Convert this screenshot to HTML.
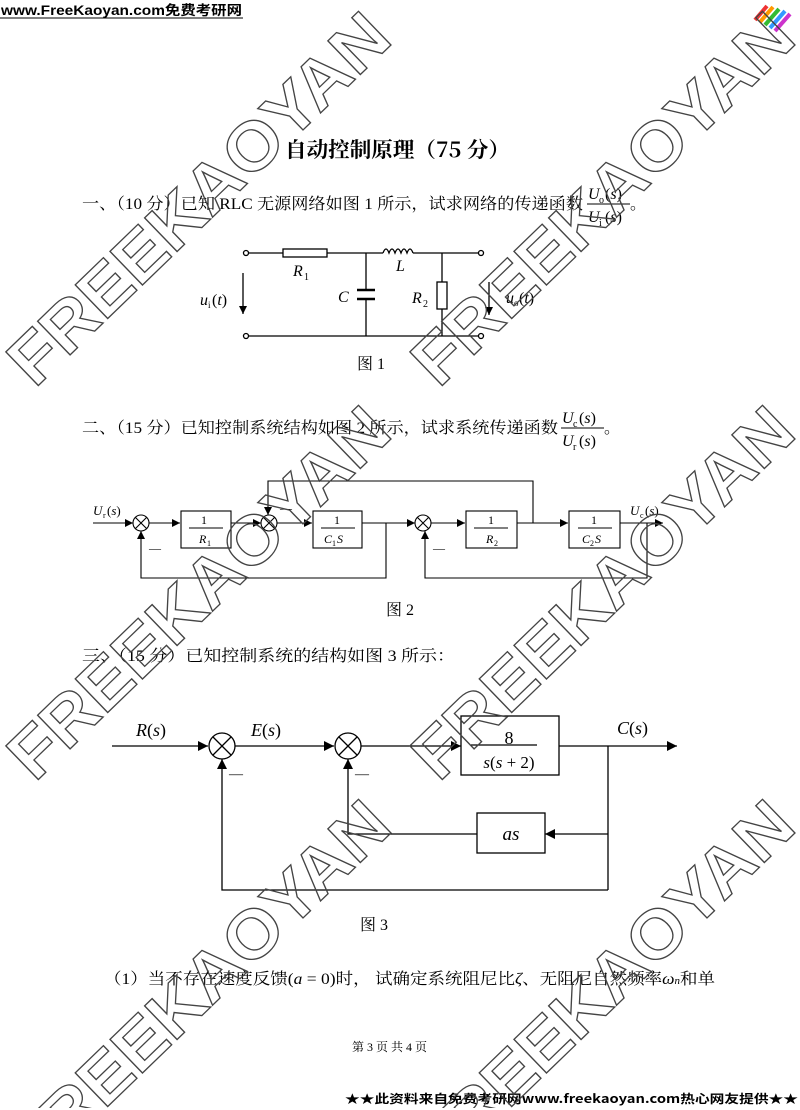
<!DOCTYPE html>
<html><head><meta charset="utf-8"><style>
html,body{margin:0;padding:0;background:#fff}
body{width:800px;height:1110px;overflow:hidden;position:relative}
svg{position:absolute;left:0;top:0;overflow:hidden}
.s{font-family:"Liberation Serif","Noto Serif CJK SC",serif;fill:#000}
.i{font-style:italic}
</style></head><body>
<svg width="800" height="1110" viewBox="0 0 800 1110" xmlns="http://www.w3.org/2000/svg">
<defs>
<marker id="a" viewBox="0 0 10 10" refX="10" refY="5" markerWidth="10" markerHeight="8" orient="auto" markerUnits="userSpaceOnUse"><path d="M0,0L10,5L0,10z" fill="#000"/></marker>
<marker id="b" viewBox="0 0 10 10" refX="10" refY="5" markerWidth="14" markerHeight="10" orient="auto" markerUnits="userSpaceOnUse"><path d="M0,0L10,5L0,10z" fill="#000"/></marker>
<clipPath id="clip"><rect x="0" y="0" width="800" height="1108"/></clipPath>
</defs>
<text x="1" y="15" font-family="Liberation Sans,'Noto Sans CJK SC',sans-serif" font-weight="bold" font-size="13.5" textLength="241" lengthAdjust="spacingAndGlyphs">www.FreeKaoyan.com免费考研网</text>
<line x1="0" y1="18" x2="243" y2="18" stroke="#000" stroke-width="1"/>
<g stroke-width="4">
<line x1="755" y1="20" x2="767" y2="6" stroke="#e33"/>
<line x1="760" y1="22" x2="773" y2="7" stroke="#f90"/>
<line x1="765" y1="25" x2="779" y2="9" stroke="#3b3"/>
<line x1="770" y1="28" x2="785" y2="11" stroke="#39f"/>
<line x1="775" y1="31" x2="790" y2="14" stroke="#c3c"/>
</g>
<text x="285" y="157" font-family="'Noto Serif CJK SC',serif" font-weight="bold" font-size="21" textLength="225" lengthAdjust="spacingAndGlyphs">自动控制原理（75 分）</text>
<text x="82" y="209" class="s" font-size="16" textLength="501" lengthAdjust="spacingAndGlyphs">一、（10 分）已知 RLC 无源网络如图 1 所示，试求网络的传递函数</text>
<text x="588" y="199" class="s i" font-size="16">U</text><text x="599" y="203" class="s" font-size="10">o</text><text x="605" y="199" class="s" font-size="16">(<tspan class="i">s</tspan>)</text>
<line x1="587" y1="204" x2="630" y2="204" stroke="#000"/>
<text x="588" y="222" class="s i" font-size="16">U</text><text x="599" y="226" class="s" font-size="10">i</text><text x="605" y="222" class="s" font-size="16">(<tspan class="i">s</tspan>)</text>
<text x="630" y="209" class="s" font-size="16">。</text>
<g stroke="#000" stroke-width="1.3" fill="none">
<circle cx="246" cy="253" r="2.5" fill="#fff"/><circle cx="246" cy="336" r="2.5" fill="#fff"/>
<circle cx="481" cy="253" r="2.5" fill="#fff"/><circle cx="481" cy="336" r="2.5" fill="#fff"/>
<line x1="249" y1="253" x2="283" y2="253"/><rect x="283" y="249" width="44" height="8"/>
<line x1="327" y1="253" x2="383" y2="253"/>
<path d="M383,253 q3,-8 6,0 q3,-8 6,0 q3,-8 6,0 q3,-8 6,0 q3,-8 6,0"/>
<line x1="413" y1="253" x2="478" y2="253"/>
<line x1="249" y1="336" x2="478" y2="336"/>
<line x1="366" y1="253" x2="366" y2="290"/><line x1="366" y1="300" x2="366" y2="336"/>
<line x1="357" y1="290" x2="375" y2="290" stroke-width="2.5"/><line x1="357" y1="299" x2="375" y2="299" stroke-width="2.5"/>
<line x1="442" y1="253" x2="442" y2="282"/><rect x="437" y="282" width="10" height="27"/><line x1="442" y1="309" x2="442" y2="336"/>
<line x1="243" y1="273" x2="243" y2="314" marker-end="url(#a)"/>
<line x1="489" y1="282" x2="489" y2="315" marker-end="url(#a)"/>
</g>
<text x="293" y="276" class="s i" font-size="16">R</text><text x="304" y="280" class="s" font-size="10">1</text>
<text x="396" y="271" class="s i" font-size="16">L</text>
<text x="338" y="302" class="s i" font-size="16">C</text>
<text x="412" y="303" class="s i" font-size="16">R</text><text x="423" y="307" class="s" font-size="10">2</text>
<text x="200" y="305" class="s i" font-size="16">u</text><text x="208" y="308" class="s" font-size="9">i</text><text x="212" y="305" class="s" font-size="16">(<tspan class="i">t</tspan>)</text>
<text x="506" y="303" class="s i" font-size="16">u</text><text x="514" y="306" class="s" font-size="9">o</text><text x="519" y="303" class="s" font-size="16">(<tspan class="i">t</tspan>)</text>
<text x="357" y="369" class="s" font-size="16">图 1</text>
<text x="82" y="433" class="s" font-size="16" textLength="476" lengthAdjust="spacingAndGlyphs">二、（15 分）已知控制系统结构如图 2 所示，试求系统传递函数</text>
<text x="562" y="423" class="s i" font-size="16">U</text><text x="573" y="427" class="s" font-size="10">c</text><text x="579" y="423" class="s" font-size="16">(<tspan class="i">s</tspan>)</text>
<line x1="561" y1="428" x2="604" y2="428" stroke="#000"/>
<text x="562" y="446" class="s i" font-size="16">U</text><text x="573" y="450" class="s" font-size="10">r</text><text x="579" y="446" class="s" font-size="16">(<tspan class="i">s</tspan>)</text>
<text x="604" y="433" class="s" font-size="16">。</text>
<g stroke="#000" stroke-width="1.1" fill="none">
<line x1="93" y1="523" x2="133" y2="523" marker-end="url(#a)"/>
<circle cx="141" cy="523" r="8"/><path d="M135,517L147,529M147,517L135,529"/>
<line x1="149" y1="523" x2="180" y2="523" marker-end="url(#a)"/>
<rect x="181" y="511" width="50" height="37"/>
<line x1="231" y1="523" x2="261" y2="523" marker-end="url(#a)"/>
<circle cx="269" cy="523" r="8"/><path d="M263,517L275,529M275,517L263,529"/>
<line x1="277" y1="523" x2="312" y2="523" marker-end="url(#a)"/>
<rect x="313" y="511" width="49" height="37"/>
<line x1="362" y1="523" x2="415" y2="523" marker-end="url(#a)"/>
<circle cx="423" cy="523" r="8"/><path d="M417,517L429,529M429,517L417,529"/>
<line x1="431" y1="523" x2="465" y2="523" marker-end="url(#a)"/>
<rect x="466" y="511" width="51" height="37"/>
<line x1="517" y1="523" x2="568" y2="523" marker-end="url(#a)"/>
<rect x="569" y="511" width="51" height="37"/>
<line x1="620" y1="523" x2="663" y2="523" marker-end="url(#a)"/>
<polyline points="533,523 533,481 268,481 268,515" marker-end="url(#a)"/>
<polyline points="386,523 386,578 141,578 141,531" marker-end="url(#a)"/>
<polyline points="647,523 647,578 425,578 425,531" marker-end="url(#a)"/>
</g>
<g font-size="12" class="s">
<text x="201" y="524">1</text><line x1="189" y1="528" x2="223" y2="528" stroke="#000"/><text x="199" y="543" class="i">R</text><text x="207" y="546" font-size="8">1</text>
<text x="334" y="524">1</text><line x1="321" y1="528" x2="355" y2="528" stroke="#000"/><text x="324" y="543" class="i">C</text><text x="332" y="546" font-size="8">1</text><text x="337" y="543" class="i">S</text>
<text x="488" y="524">1</text><line x1="474" y1="528" x2="508" y2="528" stroke="#000"/><text x="486" y="543" class="i">R</text><text x="494" y="546" font-size="8">2</text>
<text x="591" y="524">1</text><line x1="578" y1="528" x2="612" y2="528" stroke="#000"/><text x="582" y="543" class="i">C</text><text x="590" y="546" font-size="8">2</text><text x="595" y="543" class="i">S</text>
<text x="93" y="515" class="i" font-size="13">U</text><text x="103" y="518" font-size="8">r</text><text x="107" y="515" font-size="13">(<tspan class="i">s</tspan>)</text>
<text x="630" y="515" class="i" font-size="13">U</text><text x="640" y="518" font-size="8">c</text><text x="645" y="515" font-size="13">(<tspan class="i">s</tspan>)</text>
<text x="149" y="552">—</text><text x="433" y="552">—</text><text x="280" y="512">—</text>
</g>
<text x="386" y="615" class="s" font-size="16">图 2</text>
<text x="82" y="661" class="s" font-size="16" textLength="373" lengthAdjust="spacingAndGlyphs">三、（15 分）已知控制系统的结构如图 3 所示：</text>
<g stroke="#000" stroke-width="1.3" fill="none">
<line x1="112" y1="746" x2="208" y2="746" marker-end="url(#b)"/>
<circle cx="222" cy="746" r="13"/><path d="M213,737L231,755M231,737L213,755"/>
<line x1="235" y1="746" x2="334" y2="746" marker-end="url(#b)"/>
<circle cx="348" cy="746" r="13"/><path d="M339,737L357,755M357,737L339,755"/>
<line x1="361" y1="746" x2="461" y2="746" marker-end="url(#b)"/>
<rect x="461" y="716" width="98" height="59"/>
<line x1="559" y1="746" x2="677" y2="746" marker-end="url(#b)"/>
<line x1="608" y1="746" x2="608" y2="890"/>
<line x1="608" y1="834" x2="545" y2="834" marker-end="url(#b)"/>
<rect x="477" y="813" width="68" height="40"/>
<polyline points="477,834 348,834 348,759" marker-end="url(#b)"/>
<polyline points="608,890 222,890 222,759" marker-end="url(#b)"/>
</g>
<text x="509" y="744" class="s" font-size="18" text-anchor="middle">8</text>
<line x1="471" y1="745" x2="537" y2="745" stroke="#000" stroke-width="1.2"/>
<text x="509" y="768" class="s" font-size="17" text-anchor="middle"><tspan class="i">s</tspan>(<tspan class="i">s</tspan> + 2)</text>
<text x="511" y="840" class="s i" font-size="19" text-anchor="middle">as</text>
<text x="136" y="736" class="s" font-size="18"><tspan class="i">R</tspan>(<tspan class="i">s</tspan>)</text>
<text x="251" y="736" class="s" font-size="18"><tspan class="i">E</tspan>(<tspan class="i">s</tspan>)</text>
<text x="617" y="734" class="s" font-size="18"><tspan class="i">C</tspan>(<tspan class="i">s</tspan>)</text>
<text x="229" y="778" class="s" font-size="14">—</text><text x="355" y="778" class="s" font-size="14">—</text>
<text x="360" y="930" class="s" font-size="16">图 3</text>
<text x="104" y="984" class="s" font-size="16" textLength="611" lengthAdjust="spacingAndGlyphs">（1）当不存在速度反馈(<tspan class="i">a</tspan> = 0)时， 试确定系统阻尼比<tspan class="i">ζ</tspan>、无阻尼自然频率<tspan class="i">ω</tspan><tspan font-size="10" class="i">n</tspan>和单</text>
<text x="352" y="1051" class="s" font-size="12">第 3 页 共 4 页</text>
<text x="345" y="1103" font-family="'Noto Sans CJK SC',sans-serif" font-weight="bold" font-size="12" textLength="453" lengthAdjust="spacingAndGlyphs">★★此资料来自免费考研网www.freekaoyan.com热心网友提供★★</text>
<g clip-path="url(#clip)" font-family="Liberation Sans,sans-serif" font-weight="bold" font-size="68" fill="none" stroke="#444" stroke-width="1.3" text-anchor="middle">
<text transform="translate(198,198) rotate(-44)" y="24" textLength="500" lengthAdjust="spacingAndGlyphs">FREEKAOYAN</text>
<text transform="translate(602,198) rotate(-44)" y="24" textLength="500" lengthAdjust="spacingAndGlyphs">FREEKAOYAN</text>
<text transform="translate(198,592) rotate(-44)" y="24" textLength="500" lengthAdjust="spacingAndGlyphs">FREEKAOYAN</text>
<text transform="translate(602,592) rotate(-44)" y="24" textLength="500" lengthAdjust="spacingAndGlyphs">FREEKAOYAN</text>
<text transform="translate(198,986) rotate(-44)" y="24" textLength="500" lengthAdjust="spacingAndGlyphs">FREEKAOYAN</text>
<text transform="translate(602,986) rotate(-44)" y="24" textLength="500" lengthAdjust="spacingAndGlyphs">FREEKAOYAN</text>
</g>
</svg>
</body></html>
